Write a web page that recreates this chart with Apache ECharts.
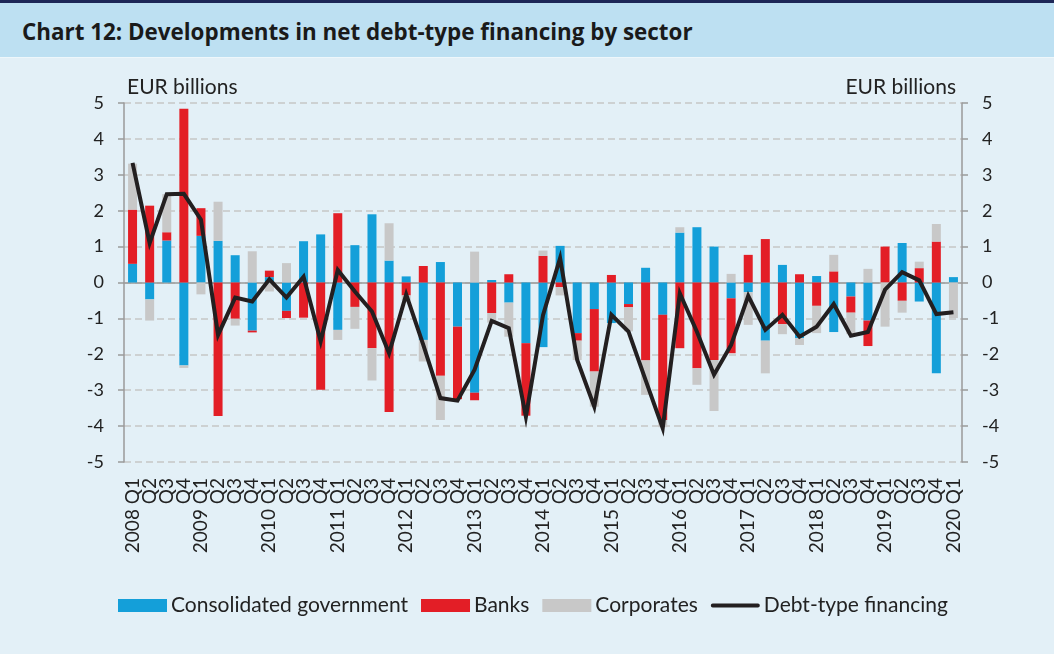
<!DOCTYPE html>
<html>
<head>
<meta charset="utf-8">
<script src="https://cdn.jsdelivr.net/npm/echarts@6/dist/echarts.min.js"></script>
<style>
html,body{margin:0;padding:0;background:#e3f0f7;}
#top{position:absolute;left:0;top:0;width:1054px;height:3px;background:#1d2757;}
#band{position:absolute;left:0;top:3px;width:1054px;height:54px;background:#bde0f2;border-bottom:1px solid #eef7fb;}
#title{position:absolute;left:22px;top:16px;font-family:'Open Sans',sans-serif;font-weight:bold;font-size:22.4px;color:#1a1a1a;}
#chart{position:absolute;left:0;top:0;width:1054px;height:654px;}
</style>
</head>
<body>
<div id="top"></div>
<div id="band"></div>
<div id="title">Chart 12: Developments in net debt-type financing by sector</div>
<div id="chart"></div>
<script>
const categories = [];
const years = [2008,2009,2010,2011,2012,2013,2014,2015,2016,2017,2018,2019];
years.forEach(function(y){ categories.push(y+' Q1','Q2','Q3','Q4'); });
categories.push('2020 Q1');

const government = [0.52,-0.47,1.17,-2.31,1.30,1.16,0.76,-1.34,0.15,-0.79,1.15,1.34,-1.32,
  1.04,1.90,0.61,0.17,-1.60,0.57,-1.23,-3.07,0.07,-0.56,-1.69,-1.80,
  1.02,-1.41,-0.74,-1.13,-0.60,0.41,-0.90,1.39,1.54,1.00,-0.44,-0.27,
  -1.62,0.49,-1.55,0.18,-1.38,-0.39,-1.06,0,1.10,-0.53,-2.53,0.15];
const banks = [1.51,2.14,0.23,4.84,0.77,-3.72,-1.01,-0.05,0.18,-0.20,-0.98,-2.99,1.93,
  -0.68,-1.83,-3.61,-0.36,0.46,-2.60,-2.02,-0.21,-0.85,0.23,-2.02,0.74,
  -0.13,-0.21,-1.74,0.21,-0.09,-2.17,-2.93,-1.83,-2.39,-2.16,-1.53,0.77,
  1.21,-1.16,0.23,-0.65,0.31,-0.45,-0.71,1.00,-0.51,0.40,1.14,0];
const corporates = [1.28,-0.59,1.06,-0.07,-0.33,1.09,-0.19,0.87,-0.25,0.54,0,0,-0.28,
  -0.61,-0.90,1.04,-0.14,-0.60,-1.23,0,0.86,-0.27,-0.95,0,0.15,
  -0.23,-0.54,-0.98,0,-0.67,-0.96,-0.20,0.15,-0.46,-1.42,0.24,-0.91,
  -0.91,-0.28,-0.19,-0.76,0.46,-0.60,0.38,-1.23,-0.33,0.18,0.49,-0.99];
const debtFinancing = [3.33,1.10,2.46,2.47,1.75,-1.46,-0.42,-0.53,0.09,-0.42,0.16,-1.64,0.35,
  -0.25,-0.81,-1.97,-0.33,-1.74,-3.22,-3.29,-2.43,-1.07,-1.27,-3.74,-0.91,
  0.68,-2.16,-3.46,-0.90,-1.37,-2.72,-4.06,-0.30,-1.37,-2.57,-1.74,-0.37,
  -1.32,-0.90,-1.51,-1.23,-0.60,-1.48,-1.38,-0.20,0.29,0.06,-0.88,-0.83];

const chart = echarts.init(document.getElementById('chart'), null, {renderer:'canvas'});
const axisCol = '#9a9a9a';
const yCommon = {
  type:'value', min:-5, max:5, interval:1,
  axisLine:{show:true, lineStyle:{color:axisCol, width:1.5}},
  axisTick:{show:true, length:6, lineStyle:{color:axisCol, width:1.5}},
  axisLabel:{fontFamily:'Lato', fontSize:18, color:'#222', margin:20}
};
chart.setOption({
  animation:false,
  backgroundColor:'transparent',
  textStyle:{fontFamily:'Lato'},
  graphic:[
    {type:'text', left:127, top:77, style:{text:'EUR billions', font:'21px Lato', fill:'#222'}},
    {type:'text', right:98, top:77, style:{text:'EUR billions', font:'21px Lato', fill:'#222'}}
  ],
  grid:{left:124, right:92, top:103, bottom:192},
  legend:{
    left:113, top:590, itemGap:13, itemWidth:49, itemHeight:13,
    textStyle:{fontFamily:'Lato', fontSize:21, color:'#222', padding:[0,0,0,-1]},
    data:[
      {name:'Consolidated government', icon:'rect'},
      {name:'Banks', icon:'rect'},
      {name:'Corporates', icon:'rect'},
      {name:'Debt-type financing', icon:'path://M2,0 H50 A2,2 0 0 1 50,4 H2 A2,2 0 0 1 2,0 Z'}
    ]
  },
  xAxis:[
    {type:'category', data:categories, position:'bottom',
     axisLine:{show:false, onZero:false}, axisTick:{show:false},
     axisLabel:{interval:0, rotate:90, fontFamily:'Lato', fontSize:19, color:'#222', margin:16}},
    {type:'category', data:categories, position:'bottom', gridIndex:0,
     axisLine:{show:true, onZero:true, lineStyle:{color:axisCol, width:1.5}},
     axisTick:{show:false}, axisLabel:{show:false}}
  ],
  yAxis:[
    Object.assign({}, yCommon, {position:'left',
      splitLine:{show:true, lineStyle:{color:'#c6c6c6', type:[7,4], width:1.5}}}),
    Object.assign({}, yCommon, {position:'right', splitLine:{show:false}})
  ],
  series:[
    {name:'Consolidated government', type:'bar', stack:'s', data:government, barWidth:9,
     itemStyle:{color:'#149fd9'}},
    {name:'Banks', type:'bar', stack:'s', data:banks, barWidth:9,
     itemStyle:{color:'#e31e26'}},
    {name:'Corporates', type:'bar', stack:'s', data:corporates, barWidth:9,
     itemStyle:{color:'#c8c8c8'}},
    {name:'Debt-type financing', type:'line', data:debtFinancing, symbol:'none', z:5,
     lineStyle:{color:'#231f20', width:4, join:'miter'}, itemStyle:{color:'#231f20'}}
  ]
});
</script>
</body>
</html>
